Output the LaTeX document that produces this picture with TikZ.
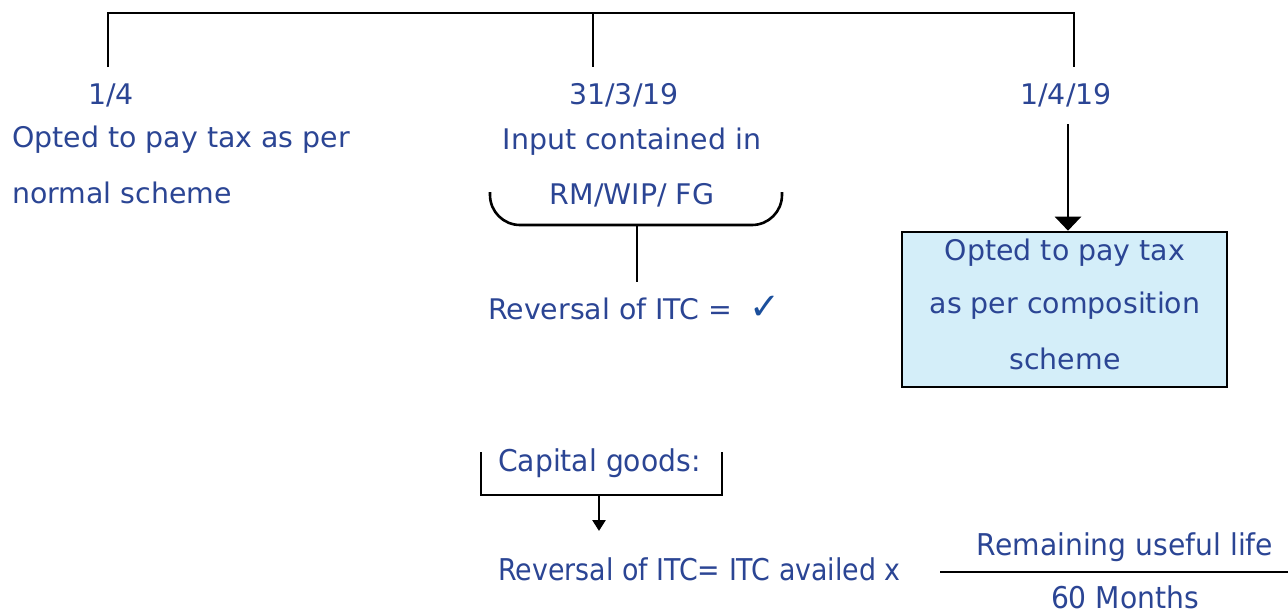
\documentclass[tikz,border=0pt]{standalone}
\usepackage{fontspec}
\setmainfont{DejaVu Sans}
\newfontfamily\condfont{DejaVu Sans}[FakeStretch=0.94]
\newfontfamily\narrowfont{DejaVu Sans}[FakeStretch=0.895]
\usetikzlibrary{arrows.meta}
\definecolor{txtblue}{HTML}{2B4594}
\definecolor{chkblue}{HTML}{1B4F9C}
\definecolor{boxfill}{HTML}{D4EEF9}
\tikzset{
  lbl/.style={text=txtblue, inner sep=0pt, font=\fontsize{28.4}{53}\selectfont},
  lblb/.style={text=txtblue, inner sep=0pt, font=\condfont\fontsize{30}{53}\selectfont},
  lbln/.style={text=txtblue, inner sep=0pt, font=\narrowfont\fontsize{30}{53}\selectfont},
  conn/.style={draw=black, line width=2.6pt},
  bigtip/.style={-{Triangle[width=26pt,length=14pt]}},
  smalltip/.style={-{Triangle[width=13pt,length=11pt]}},
}
\begin{document}
\begin{tikzpicture}[x=1pt,y=-1pt]
\useasboundingbox (0,0) rectangle (1288,613);
% dates
\node[lbl] (d1) at (111,95) {1/4};
\node[lbl] (d2) at (624,95) {31/3/19};
\node[lbl] (d3) at (1066,95) {1/4/19};
% top bracket
\coordinate (a1) at (108,67);
\coordinate (a2) at (593,67);
\coordinate (a3) at (1074,67);
\coordinate (t1) at (108,13);
\coordinate (t2) at (593,13);
\coordinate (t3) at (1074,13);
\draw[conn] (a1) -- (t1) -- (t3) -- (a3);
\draw[conn] (t2) -- (a2);
% left text
\node[lbl, anchor=west] (n1a) at (12,140) {Opted to pay tax as per};
\node[lbl, anchor=west] (n1b) at (12,193) {normal scheme};
% middle
\node[lbl] (m1) at (632,142) {Input contained in};
\node[lbl] (m2) at (632,195) {RM/WIP/ FG};
\draw[conn, rounded corners=30pt] (490,192) -- (490,225) -- (782,225) -- (782,192);
\coordinate (b1) at (637,225);
\node[lbl, anchor=west] (rev) at (488,308) {Reversal of ITC = \hspace{8pt}\textcolor{chkblue}{\fontsize{37}{37}\selectfont\bfseries ✓}};
\draw[conn] (b1) -- (637,282);
% right box
\coordinate (c1) at (1068,124);
\node[draw=black, line width=2.6pt, fill=boxfill, minimum width=325pt, minimum height=155pt, inner sep=0pt] (box) at (1064.5,309.5) {};
\node[lbl] (bx1) at (1065,253) {Opted to pay tax};
\node[lbl] (bx2) at (1065,306) {as per composition};
\node[lbl] (bx3) at (1065,359) {scheme};
\draw[conn, bigtip] (c1) -- (box.north -| c1);
% capital goods
\node[lblb, anchor=west] (cg) at (498,463) {Capital goods:};
\draw[conn] (481,452) -- (481,495) -- (722,495) -- (722,452);
\coordinate (e1) at (599,495);
\coordinate (e2) at (599,531);
\draw[conn, smalltip] (e1) -- (e2);
\node[lbln, anchor=west] (form) at (498,569) {Reversal of ITC= ITC availed x};
\node[lblb] (num) at (1125,547) {Remaining useful life};
\node[lblb] (den) at (1125,597) {60 Months};
\coordinate (f1) at (940,572);
\coordinate (f2) at (1288,572);
\draw[conn] (f1) -- (f2);
\end{tikzpicture}
\end{document}
